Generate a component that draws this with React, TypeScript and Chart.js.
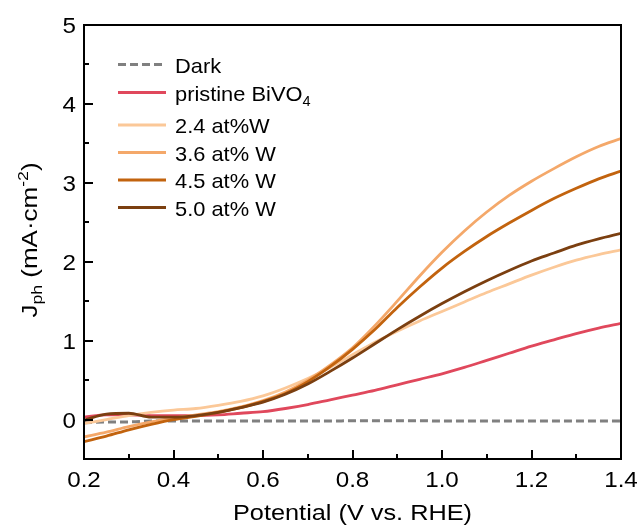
import React, { useEffect, useRef } from "react";
import { Chart, registerables } from "chart.js";

Chart.register(...registerables);

// ---- data ----
const potential = [0.2, 0.25, 0.3, 0.35, 0.4, 0.45, 0.5, 0.55, 0.6, 0.65, 0.7, 0.75, 0.8, 0.85, 0.9, 0.95, 1.0, 1.05, 1.1, 1.15, 1.2, 1.25, 1.3, 1.35, 1.4];
const darkJ = [-0.04, -0.03, -0.03, -0.02, -0.02, -0.02, -0.02, -0.02, -0.02, -0.02, -0.02, -0.02, -0.015, -0.015, -0.015, -0.015, -0.02, -0.02, -0.02, -0.02, -0.02, -0.02, -0.02, -0.02, -0.02];
const pristineJ = [0.03, 0.06, 0.06, 0.05, 0.05, 0.05, 0.06, 0.08, 0.1, 0.14, 0.19, 0.25, 0.31, 0.37, 0.44, 0.51, 0.58, 0.66, 0.75, 0.84, 0.93, 1.01, 1.09, 1.16, 1.22];
const w24J = [-0.05, 0.0, 0.05, 0.09, 0.12, 0.14, 0.18, 0.23, 0.3, 0.4, 0.52, 0.66, 0.82, 0.98, 1.12, 1.25, 1.37, 1.49, 1.61, 1.72, 1.83, 1.93, 2.02, 2.09, 2.15];
const w36J = [-0.22, -0.16, -0.09, -0.03, 0.02, 0.06, 0.1, 0.16, 0.24, 0.35, 0.5, 0.69, 0.91, 1.19, 1.5, 1.82, 2.12, 2.39, 2.63, 2.84, 3.02, 3.18, 3.33, 3.46, 3.56];
const w45J = [-0.28, -0.21, -0.13, -0.06, 0.0, 0.04, 0.09, 0.15, 0.23, 0.33, 0.48, 0.67, 0.89, 1.14, 1.42, 1.68, 1.92, 2.13, 2.32, 2.49, 2.65, 2.8, 2.93, 3.05, 3.15];
const w50J = [-0.01, 0.07, 0.08, 0.03, 0.03, 0.05, 0.09, 0.15, 0.22, 0.32, 0.45, 0.61, 0.78, 0.96, 1.14, 1.31, 1.47, 1.62, 1.76, 1.89, 2.01, 2.11, 2.21, 2.29, 2.36];

const xTicks = [0.2, 0.4, 0.6, 0.8, 1.0, 1.2, 1.4];
const xMinorTicks = [0.3, 0.5, 0.7, 0.9, 1.1, 1.3];
const yTicks = [0, 1, 2, 3, 4, 5];
const yMinorTicks = [0.5, 1.5, 2.5, 3.5, 4.5];

const seriesNames = ["Dark", "pristine BiVO", "2.4 at%W", "3.6 at% W", "4.5 at% W", "5.0 at% W"];
const seriesColors = ["#808080", "#E0485C", "#FBC898", "#F4A86A", "#C2630E", "#7B3F10"];
const seriesValues = [darkJ, pristineJ, w24J, w36J, w45J, w50J];

const FONT = "'Liberation Sans', Arial, sans-serif";

type Part = { t: string; size: number; dy: number };

function drawRich(ctx: CanvasRenderingContext2D, parts: Part[], x: number, y: number, align: "left" | "center" | "right", sx: number) {
  let total = 0;
  for (const p of parts) {
    ctx.font = `${p.size}px ${FONT}`;
    total += ctx.measureText(p.t).width;
  }
  ctx.save();
  ctx.translate(x, y);
  ctx.scale(sx, 1);
  let cx = align === "center" ? -total / 2 : align === "right" ? -total : 0;
  ctx.textAlign = "left";
  ctx.textBaseline = "alphabetic";
  for (const p of parts) {
    ctx.font = `${p.size}px ${FONT}`;
    ctx.fillText(p.t, cx, p.dy);
    cx += ctx.measureText(p.t).width;
  }
  ctx.restore();
}

const decorPlugin = {
  id: "decor",
  afterDatasetsDraw(chart: any) {
    const ctx: CanvasRenderingContext2D = chart.ctx;
    const area = chart.chartArea;
    const xs = chart.scales.x;
    const ys = chart.scales.y;
    ctx.save();
    ctx.strokeStyle = "#000";
    ctx.fillStyle = "#000";
    ctx.lineWidth = 2;
    // frame
    ctx.strokeRect(area.left, area.top, area.right - area.left, area.bottom - area.top);
    // ticks (inward)
    ctx.beginPath();
    for (const v of xTicks) {
      const px = Math.round(xs.getPixelForValue(v));
      ctx.moveTo(px, area.bottom);
      ctx.lineTo(px, area.bottom - 9);
    }
    for (const v of xMinorTicks) {
      const px = Math.round(xs.getPixelForValue(v));
      ctx.moveTo(px, area.bottom);
      ctx.lineTo(px, area.bottom - 5);
    }
    for (const v of yTicks) {
      const py = Math.round(ys.getPixelForValue(v));
      ctx.moveTo(area.left, py);
      ctx.lineTo(area.left + 9, py);
    }
    for (const v of yMinorTicks) {
      const py = Math.round(ys.getPixelForValue(v));
      ctx.moveTo(area.left, py);
      ctx.lineTo(area.left + 5, py);
    }
    ctx.stroke();

    // tick labels
    for (const v of xTicks) {
      drawRich(ctx, [{ t: v.toFixed(1), size: 22, dy: 0 }], xs.getPixelForValue(v), area.bottom + 28, "center", 1.1);
    }
    for (const v of yTicks) {
      drawRich(ctx, [{ t: String(v), size: 22, dy: 0 }], area.left - 8, ys.getPixelForValue(v) + 8, "right", 1.1);
    }

    // x title
    drawRich(ctx, [{ t: "Potential (V vs. RHE)", size: 22, dy: 0 }], (area.left + area.right) / 2, 520, "center", 1.15);

    // y title (rotated)
    ctx.save();
    ctx.translate(37, 240);
    ctx.rotate(-Math.PI / 2);
    drawRich(
      ctx,
      [
        { t: "J", size: 22, dy: 0 },
        { t: "ph", size: 15, dy: 5 },
        { t: " (mA\u00B7cm", size: 22, dy: 0 },
        { t: "-2", size: 15, dy: -9 },
        { t: ")", size: 22, dy: 0 },
      ],
      0,
      0,
      "center",
      1.18
    );
    ctx.restore();

    // legend
    const rows = [64.5, 92.5, 125, 152.5, 180, 207.5];
    for (let i = 0; i < seriesNames.length; i++) {
      const y = rows[i];
      ctx.save();
      ctx.strokeStyle = seriesColors[i];
      ctx.lineWidth = 3;
      if (i === 0) ctx.setLineDash([8, 4]);
      ctx.beginPath();
      ctx.moveTo(118, y);
      ctx.lineTo(166, y);
      ctx.stroke();
      ctx.restore();
      ctx.fillStyle = "#000";
      if (i === 1) {
        drawRich(
          ctx,
          [
            { t: "pristine BiVO", size: 21, dy: 0 },
            { t: "4", size: 14, dy: 5 },
          ],
          175,
          y + 8,
          "left",
          1.04
        );
      } else {
        drawRich(ctx, [{ t: seriesNames[i], size: 21, dy: 0 }], 175, y + 8, "left", 1.04);
      }
    }
    ctx.restore();
  },
};

export default function App() {
  const canvasRef = useRef<HTMLCanvasElement | null>(null);

  useEffect(() => {
    const canvas = canvasRef.current;
    if (!canvas) return;
    const datasets = seriesValues.map((vals, i) => ({
      label: seriesNames[i],
      data: potential.map((x, k) => ({ x, y: vals[k] })),
      borderColor: seriesColors[i],
      backgroundColor: seriesColors[i],
      borderWidth: i === 0 ? 3 : 2.8,
      borderDash: i === 0 ? [8, 4] : [],
      pointRadius: 0,
      fill: false,
      cubicInterpolationMode: "monotone" as const,
      order: seriesNames.length - i,
    }));
    const chart = new Chart(canvas, {
      type: "line",
      data: { datasets },
      options: {
        animation: false,
        responsive: false,
        devicePixelRatio: 1,
        layout: { padding: { left: 84, right: 19, top: 25, bottom: 69 } },
        plugins: { legend: { display: false }, tooltip: { enabled: false } },
        scales: {
          x: { type: "linear", min: 0.2, max: 1.4, display: false },
          y: { type: "linear", min: -0.5, max: 5, display: false },
        },
      },
      plugins: [decorPlugin],
    });
    return () => chart.destroy();
  }, []);

  return (
    <div style={{ position: "absolute", left: 0, top: 0, width: 640, height: 528, background: "#fff" }}>
      <canvas ref={canvasRef} width={640} height={528} style={{ display: "block" }} />
    </div>
  );
}
